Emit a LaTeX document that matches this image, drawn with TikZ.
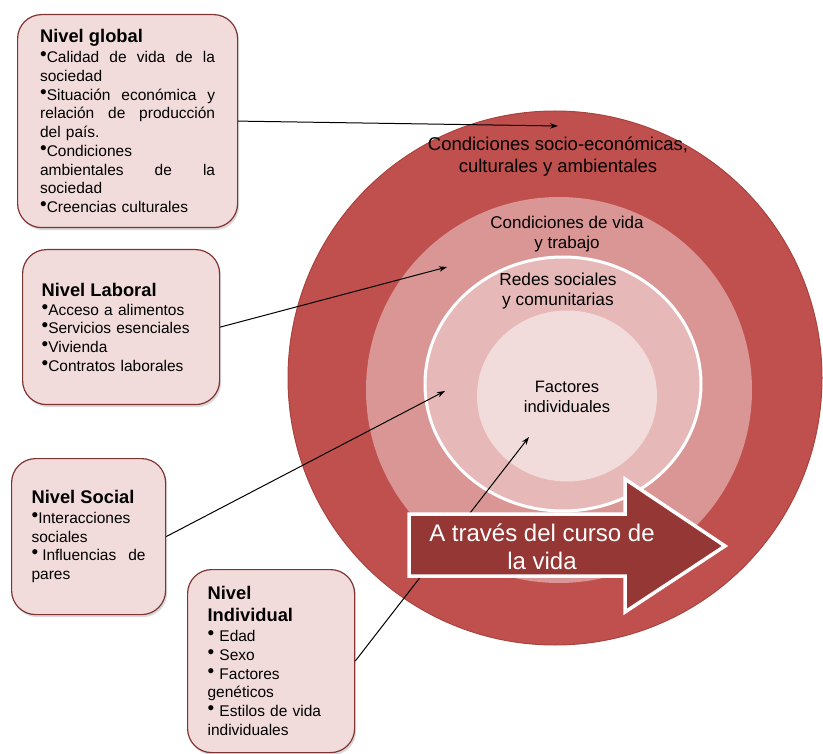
\documentclass[tikz,border=0pt]{standalone}
\usepackage{fontspec}
\setmainfont{Liberation Sans}
\usetikzlibrary{arrows.meta,shadows}

\definecolor{ringout}{HTML}{C0504D}
\definecolor{ringedge}{HTML}{A9433F}
\definecolor{ringmid}{HTML}{D99694}
\definecolor{ringred}{HTML}{E6B9B8}
\definecolor{ringin}{HTML}{F2DCDB}
\definecolor{boxfill}{HTML}{F2DCDB}
\definecolor{boxline}{HTML}{7F3432}
\definecolor{lifered}{HTML}{953735}

\newcommand{\bul}{\smash{\raisebox{2pt}{\fontsize{19}{19}\selectfont •}}}
\newcommand{\jline}[2]{{\spaceskip=0pt\xspaceskip=0pt\makebox[#1pt][s]{#2}}}
\newcommand{\lvtitle}[1]{{\fontsize{18.3}{19}\selectfont\bfseries #1}}

\tikzset{
	level/.style={draw=boxline, line width=1.2pt, fill=boxfill, rounded corners=24pt,
		anchor=north west, align=left, inner ysep=0pt,
		font=\fontsize{15.5}{18.7}\selectfont,
		drop shadow={opacity=0.3, shadow xshift=1.5pt, shadow yshift=-2.5pt}},
	ringlabel/.style={align=center, inner sep=0pt, text=black},
	conn/.style={line width=1pt, -{Stealth[length=8pt,width=5.5pt]}}
}

\begin{document}
\begin{tikzpicture}[x=1pt,y=-1pt]
	\pgfmathsetmacro{\gw}{175}		%text width of global box
	\pgfmathsetmacro{\lw}{159}		%text width of laboral box
	\pgfmathsetmacro{\sw}{114}		%text width of social box
	\pgfmathsetmacro{\iw}{127}		%text width of individual box
	\useasboundingbox (0,0) rectangle (823,754);

	%rings
	\fill[ringout, draw=ringedge, line width=1pt] (555,378) circle [radius=267pt];
	\fill[ringmid] (559,390) circle [radius=193pt];
	\filldraw[ringred, draw=white, line width=3pt] (563,384) ellipse [x radius=138pt, y radius=127pt];
	\fill[ringin] (567,396) ellipse [x radius=90pt, y radius=85.5pt];

	%ring labels
	\node[ringlabel, font=\fontsize{18.5}{22}\selectfont] (socio) at (558,157) {Condiciones socio-económicas,\\culturales y ambientales};
	\node[ringlabel, font=\fontsize{17}{19.5}\selectfont] (vida) at (567,234) {Condiciones de vida\\y trabajo};
	\node[ringlabel, font=\fontsize{17.3}{19.5}\selectfont] (redes) at (558,291) {Redes sociales\\y comunitarias};
	\node[ringlabel, font=\fontsize{16.5}{20}\selectfont] (fact) at (567,397) {Factores\\individuales};

	%levels
	\node[level, inner xsep=22.5pt, text width=\gw pt, minimum height=213pt] (glob) at (17,14) {
		\lvtitle{Nivel global}\\[1.3pt]
		\jline{\gw}{\bul Calidad de vida de la}\\
		sociedad\\
		\jline{\gw}{\bul Situación económica y}\\
		\jline{\gw}{relación de producción}\\
		del país.\\
		\bul Condiciones\\
		\jline{\gw}{ambientales de la}\\
		sociedad\\
		\bul Creencias culturales};
	\node[level, inner xsep=19pt, text width=\lw pt, minimum height=155pt] (lab) at (22,249) {
		\lvtitle{Nivel Laboral}\\[0.3pt]
		\bul Acceso a alimentos\\
		\bul Servicios esenciales\\
		\bul Vivienda\\
		\bul Contratos laborales};
	\node[level, inner xsep=20pt, text width=\sw pt, minimum height=156pt] (soc) at (11,458) {
		\lvtitle{Nivel Social}\\[1.3pt]
		\bul Interacciones\\
		sociales\\
		\jline{\sw}{\bul\hspace{4pt}Influencias de}\\
		pares};
	\node[level, inner xsep=20pt, text width=\iw pt, minimum height=183pt] (ind) at (187,569) {
		\lvtitle{Nivel}\\[3pt]
		\lvtitle{Individual}\\[1.5pt]
		\bul{} Edad\\
		\bul{} Sexo\\
		\bul{} Factores\\
		genéticos\\
		\bul{} Estilos de vida\\
		individuales};

	%connections
	\coordinate (tglob) at (558,126);
	\coordinate (tlab) at (447,267);
	\coordinate (tsoc) at (445,391);
	\coordinate (tind) at (529,437);
	\draw[conn] (glob.east) -- (tglob);
	\draw[conn] (lab.east) -- (tlab);
	\draw[conn] (soc.east) -- (tsoc);
	\draw[conn] (ind.east) -- (tind);

	%life course arrow
	\filldraw[lifered, draw=white, line width=3.5pt, line join=miter]
		(409,514) -- (625,514) -- (625,479) -- (725,546) -- (625,612) -- (625,576) -- (409,576) -- cycle;
	\node[ringlabel, text=white, font=\fontsize{24}{28}\selectfont] (curso) at (542,547) {A través del curso de\\la vida};

\end{tikzpicture}
\end{document}
